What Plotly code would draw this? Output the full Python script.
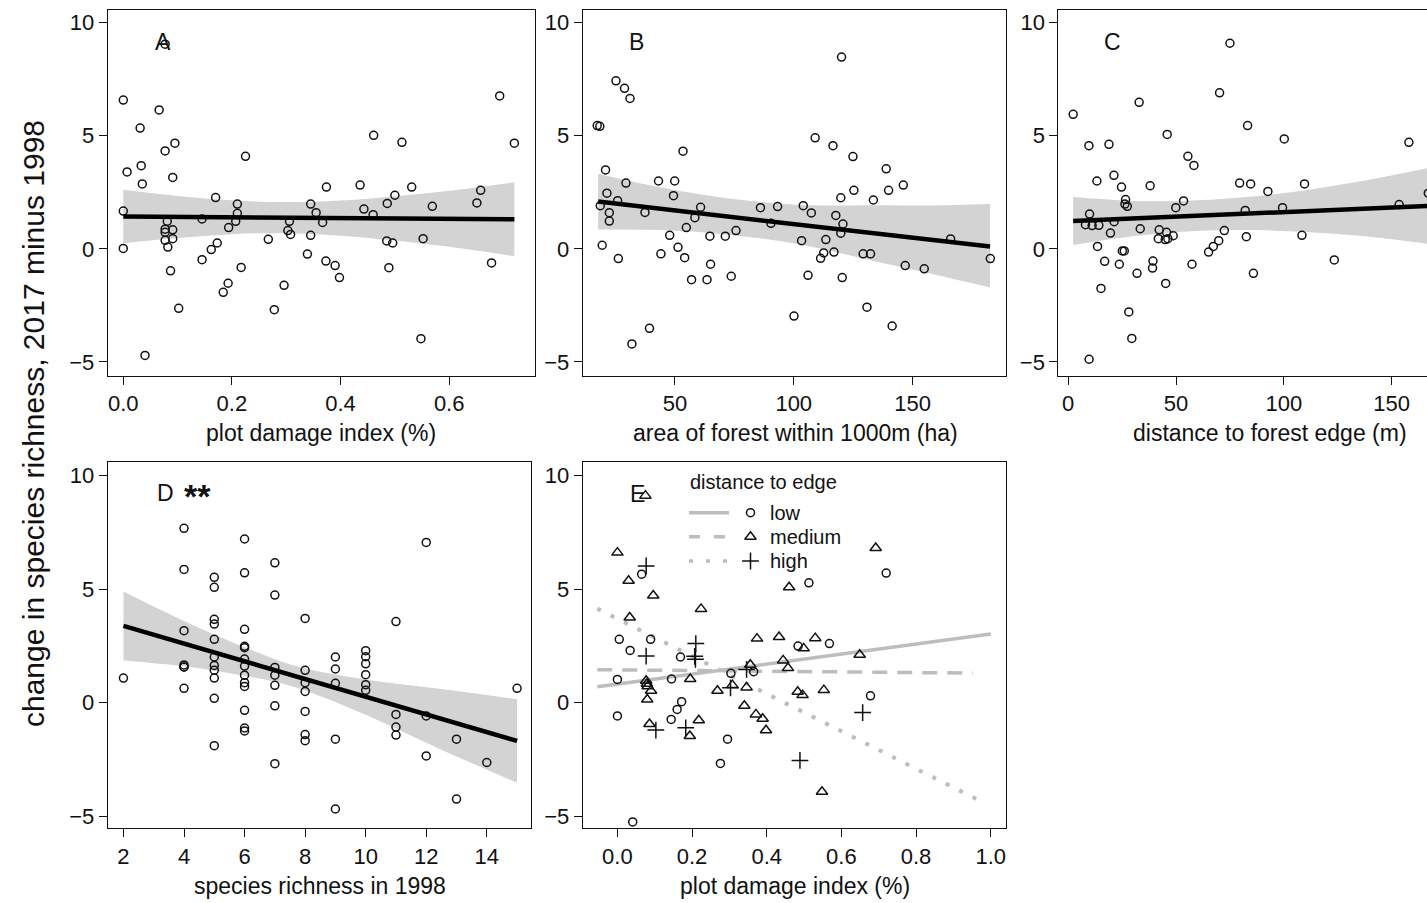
import plotly.graph_objects as go

FONT = "Liberation Sans, Arial, sans-serif"
W, H = 1427, 903

# ---------------- data ----------------
# Panel A: plot damage index (%)
a_x = [0.0, 0.066, 0.031, 0.095, 0.077, 0.033, 0.007, 0.091, 0.035, 0.225,
       0.0, 0.0, 0.081, 0.077, 0.091, 0.077, 0.077, 0.091, 0.082, 0.087,
       0.102, 0.04, 0.145, 0.145, 0.162, 0.170, 0.173, 0.194, 0.210, 0.210,
       0.207, 0.217, 0.193, 0.184, 0.267, 0.278, 0.296, 0.306, 0.303, 0.308,
       0.345, 0.355, 0.367, 0.345, 0.339, 0.374, 0.373, 0.39, 0.398, 0.436,
       0.443, 0.46, 0.461, 0.513, 0.5, 0.486, 0.485, 0.496, 0.489, 0.531,
       0.569, 0.552, 0.548, 0.651, 0.658, 0.678, 0.693, 0.72, 0.077]
a_y = [6.58, 6.14, 5.34, 4.67, 4.33, 3.68, 3.40, 3.16, 2.87, 4.09,
       1.67, 0.02, 1.22, 0.87, 0.84, 0.73, 0.38, 0.45, 0.08, -0.97,
       -2.63, -4.71, 1.32, -0.48, -0.03, 2.27, 0.26, 0.94, 1.98, 1.57,
       1.22, -0.82, -1.52, -1.92, 0.42, -2.69, -1.61, 1.22, 0.81, 0.64,
       1.98, 1.60, 1.17, 0.60, -0.23, 2.73, -0.54, -0.74, -1.27, 2.82,
       1.76, 1.51, 5.02, 4.71, 2.37, 2.01, 0.35, 0.26, -0.83, 2.73,
       1.88, 0.45, -3.97, 2.03, 2.59, -0.62, 6.76, 4.67, 9.05]
a_fit_x = [0.0, 0.72]
a_fit_y = [1.43, 1.31]
a_band_x = [0.0, 0.1, 0.2, 0.29, 0.4, 0.5, 0.6, 0.72]
a_band_hi = [2.61, 2.34, 2.15, 2.07, 2.14, 2.33, 2.57, 2.94]
a_band_lo = [0.25, 0.48, 0.65, 0.69, 0.58, 0.37, 0.09, -0.32]

# Panel B: area of forest within 1000 m (ha)
b_x = [17.3, 18.4, 25.2, 28.8, 31.1, 20.8, 21.4, 29.4, 25.9, 18.6,
       22.4, 22.4, 19.4, 26.2, 31.9, 39.3, 37.4, 43.1, 44.1, 47.8,
       49.4, 49.9, 53.4, 51.3, 54.1, 54.8, 57.0, 58.4, 60.8, 63.5,
       64.7, 65.0, 71.2, 73.7, 75.7, 86.0, 90.4, 93.2, 100.1, 103.3,
       104.0, 107.4, 106.0, 109.0, 111.3, 112.6, 113.5, 116.5, 116.9, 117.7,
       119.8, 119.8, 120.7, 120.4, 120.1, 124.9, 125.3, 129.2, 130.8, 132.3,
       133.5, 138.9, 139.9, 141.4, 146.1, 146.9, 154.9, 166.0, 182.7]
b_y = [5.45, 5.42, 7.43, 7.10, 6.65, 3.49, 2.46, 2.91, 2.13, 1.91,
       1.60, 1.23, 0.16, -0.43, -4.2, -3.51, 1.61, 3.0, -0.22, 0.6,
       2.35, 3.0, 4.32, 0.07, -0.39, 0.94, -1.36, 1.38, 1.84, -1.36,
       0.56, -0.68, 0.56, -1.21, 0.81, 1.82, 1.13, 1.87, -2.97, 0.36,
       1.91, 1.59, -1.17, 4.91, -0.42, -0.18, 0.41, 4.56, -0.14, 1.48,
       2.26, 0.69, 1.10, -1.27, 8.48, 4.08, 2.59, -0.22, -2.58, -0.22,
       2.16, 3.54, 2.59, -3.41, 2.82, -0.74, -0.88, 0.44, -0.43]
b_fit_x = [17.7, 182.6]
b_fit_y = [2.09, 0.10]
b_band_x = [17.7, 40, 66, 101, 136, 160, 182.6]
b_band_hi = [3.32, 2.80, 2.33, 1.95, 1.93, 1.92, 1.98]
b_band_lo = [0.86, 0.84, 0.69, 0.23, -0.59, -1.15, -1.70]

# Panel C: distance to forest edge (m)
c_x = [2.3, 9.6, 18.9, 13.3, 21.2, 24.7, 9.9, 8.0, 11.1, 14.2,
       21.3, 19.6, 13.6, 16.9, 15.2, 9.7, 23.7, 25.1, 26.0, 26.6,
       26.3, 27.4, 28.1, 29.5, 31.9, 32.9, 33.4, 38.0, 39.3, 39.1,
       41.8, 42.2, 45.0, 45.6, 46.2, 48.7, 45.2, 45.9, 49.9, 53.5,
       55.5, 58.3, 57.4, 65.1, 67.3, 69.8, 72.4, 70.2, 75.0, 79.5,
       84.6, 83.2, 82.1, 82.6, 85.9, 92.6, 99.4, 100.2, 108.4, 109.6,
       123.4, 153.5, 158.0, 167.0]
c_y = [5.95, 4.56, 4.62, 3.0, 3.25, 2.73, 1.54, 1.07, 1.03, 1.04,
       1.20, 0.70, 0.11, -0.55, -1.75, -4.88, -0.68, -0.09, -0.09, 2.18,
       1.98, 1.88, -2.79, -3.96, -1.08, 6.48, 0.89, 2.79, -0.54, -0.85,
       0.45, 0.84, 0.41, 0.73, 0.45, 0.58, -1.53, 5.06, 1.82, 2.12,
       4.09, 3.69, -0.68, -0.14, 0.11, 0.36, 0.81, 6.90, 9.09, 2.91,
       2.87, 5.45, 1.70, 0.54, -1.08, 2.54, 1.82, 4.86, 0.60, 2.87,
       -0.49, 1.96, 4.71, 2.46]
c_fit_x = [2.3, 167.0]
c_fit_y = [1.23, 1.90]
c_band_x = [2.3, 30, 55, 80, 105, 135, 167.0]
c_band_hi = [2.29, 2.12, 2.13, 2.27, 2.53, 2.98, 3.58]
c_band_lo = [0.17, 0.56, 0.77, 0.83, 0.77, 0.58, 0.22]

# Panel D: species richness in 1998
d_x = [2,
       4, 4, 4, 4, 4, 4, 4,
       5, 5, 5, 5, 5, 5, 5, 5, 5, 5, 5,
       6, 6, 6, 6, 6, 6, 6, 6, 6, 6, 6, 6, 6,
       7, 7, 7, 7, 7, 7, 7,
       8, 8, 8, 8, 8, 8, 8,
       9, 9, 9, 9, 9,
       10, 10, 10, 10, 10, 10,
       11, 11, 11, 11,
       12, 12, 12,
       13, 13,
       14,
       15]
d_y = [1.08,
       7.68, 5.87, 3.17, 1.66, 1.57, 1.57, 0.63,
       5.52, 5.08, 3.67, 3.46, 2.79, 2.01, 1.64, 1.43, 1.08, 0.19, -1.90,
       7.21, 5.72, 3.23, 2.48, 2.42, 1.92, 1.61, 1.21, 0.88, 0.71, -0.34, -1.12, -1.25,
       6.16, 4.74, 1.55, 1.21, 0.76, -0.14, -2.69,
       3.71, 1.42, 0.88, 0.49, -0.39, -1.41, -1.68,
       2.01, 1.48, 0.85, -1.61, -4.69,
       2.29, 2.02, 1.71, 1.23, 0.79, 0.54,
       3.57, -0.52, -1.08, -1.43,
       7.06, -0.59, -2.35,
       -1.61, -4.25,
       -2.64,
       0.63]
d_fit_x = [2, 15]
d_fit_y = [3.38, -1.69]
d_band_x = [2, 4, 6, 7.6, 10, 12.5, 15]
d_band_hi = [4.90, 3.60, 2.44, 1.65, 1.02, 0.60, 0.15]
d_band_lo = [1.86, 1.60, 1.18, 0.71, -0.54, -2.08, -3.53]

# Panel E: plot damage index by distance-to-edge class
e_low_x = [0.065, 0.513, 0.72, 0.005, 0.089, 0.034, 0.169, 0.484, 0.568, 0.0,
           0.145, 0.365, 0.304, 0.0, 0.172, 0.16, 0.144, 0.295, 0.276, 0.678, 0.041]
e_low_y = [5.66, 5.28, 5.71, 2.79, 2.79, 2.30, 2.01, 2.49, 2.60, 1.02,
           1.04, 1.36, 1.29, -0.59, 0.04, -0.30, -0.74, -1.61, -2.68, 0.30, -5.26]
e_med_x = [0.075, 0.0, 0.03, 0.096, 0.033, 0.224, 0.46, 0.692, 0.374, 0.433,
           0.53, 0.499, 0.444, 0.356, 0.457, 0.649, 0.195, 0.077, 0.079, 0.081,
           0.09, 0.080, 0.308, 0.346, 0.268, 0.483, 0.496, 0.553, 0.34, 0.371,
           0.389, 0.398, 0.086, 0.218, 0.194, 0.548]
e_med_y = [9.12, 6.61, 5.37, 4.72, 3.75, 4.13, 5.08, 6.81, 2.82, 2.89,
           2.84, 2.39, 1.86, 1.67, 1.52, 2.11, 1.04, 0.96, 0.83, 0.72,
           0.52, 0.14, 0.77, 0.67, 0.52, 0.48, 0.33, 0.55, -0.14, -0.52,
           -0.71, -1.22, -0.94, -0.78, -1.47, -3.93]
e_high_x = [0.077, 0.077, 0.21, 0.207, 0.209, 0.346, 0.303, 0.103, 0.183, 0.657, 0.489]
e_high_y = [6.02, 2.05, 2.60, 2.04, 1.91, 1.46, 0.65, -1.21, -1.11, -0.44, -2.55]
e_low_fit_x = [-0.054, 1.0]
e_low_fit_y = [0.70, 3.02]
e_med_fit_x = [-0.054, 0.952]
e_med_fit_y = [1.45, 1.30]
e_high_fit_x = [-0.054, 0.968]
e_high_fit_y = [4.14, -4.30]

legend_title = "distance to edge"
legend_labels = ["low", "medium", "high"]

# ---------------- styling ----------------
INK = "#111111"
BAND = "#d3d3d3"
GREY = "#bdbdbd"
TICK_FS = 22
TITLE_FS = 23
PT_SIZE = 8
PT_LW = 1.5


def px_x(p):
    return p / W


def px_y(p):
    return 1 - p / H


# pixel boxes: (left, right, top, bottom)
boxes = {
    "A": (107.7, 535.0, 10.0, 376.0),
    "B": (582.7, 1006.0, 10.0, 376.0),
    "C": (1058.3, 1427.0, 10.0, 376.0),
    "D": (107.7, 531.0, 462.3, 828.3),
    "E": (582.7, 1006.0, 462.3, 828.3),
}
ranges_x = {
    "A": [-0.0287, 0.758],
    "B": [11.2, 189.3],
    "C": [-4.6, 166.4],
    "D": [1.48, 15.46],
    "E": [-0.093, 1.041],
}
ranges_y_top = [-5.62, 10.56]
ranges_y_bot = [-5.54, 10.59]
xtickvals = {
    "A": [0.0, 0.2, 0.4, 0.6],
    "B": [50, 100, 150],
    "C": [0, 50, 100, 150],
    "D": [2, 4, 6, 8, 10, 12, 14],
    "E": [0.0, 0.2, 0.4, 0.6, 0.8, 1.0],
}
xtickfmt = {"A": ".1f", "B": "d", "C": "d", "D": "d", "E": ".1f"}
xtitles = {
    "A": ("plot damage index (%)", 321, 433),
    "B": ("area of forest within 1000m (ha)", 795, 433),
    "C": ("distance to forest edge (m)", 1270, 433),
    "D": ("species richness in 1998", 320, 886),
    "E": ("plot damage index (%)", 795, 886),
}
order = ["A", "B", "C", "D", "E"]

fig = go.Figure()
layout = dict(
    width=W, height=H, autosize=False,
    margin=dict(l=0, r=0, t=0, b=0, pad=0),
    paper_bgcolor="white", plot_bgcolor="rgba(0,0,0,0)",
    showlegend=False,
    font=dict(family=FONT, size=TICK_FS, color=INK),
)
annotations = []

for i, key in enumerate(order, start=1):
    l, r, t, b = boxes[key]
    sx = "" if i == 1 else str(i)
    yr = ranges_y_top if key in "ABC" else ranges_y_bot
    layout["xaxis" + sx] = dict(
        domain=[px_x(l), px_x(r)], anchor="y" + sx, range=ranges_x[key],
        showline=True, linecolor=INK, linewidth=1, mirror=True,
        ticks="outside", ticklen=8, tickwidth=1, tickcolor=INK,
        tickvals=xtickvals[key], tickformat=xtickfmt[key],
        showgrid=False, zeroline=False,
        tickfont=dict(family=FONT, size=TICK_FS, color=INK),
    )
    layout["yaxis" + sx] = dict(
        domain=[px_y(b), px_y(t)], anchor="x" + sx, range=yr,
        showline=True, linecolor=INK, linewidth=1,
        mirror=(key != "C"),
        ticks="outside", ticklen=8, tickwidth=1, tickcolor=INK,
        tickvals=[-5, 0, 5, 10],
        showgrid=False, zeroline=False,
        tickfont=dict(family=FONT, size=TICK_FS, color=INK),
    )
    txt, cx, cy = xtitles[key]
    annotations.append(dict(
        text=txt, xref="paper", yref="paper", x=px_x(cx), y=px_y(cy),
        xanchor="center", yanchor="middle", showarrow=False,
        font=dict(family=FONT, size=TITLE_FS, color=INK),
    ))

# y-axis title
annotations.append(dict(
    text="change in species richness, 2017 minus 1998",
    xref="paper", yref="paper", x=px_x(33), y=px_y(424),
    xanchor="center", yanchor="middle", textangle=-90, showarrow=False,
    font=dict(family=FONT, size=30, color=INK),
))

# panel letters (data coordinates)
panel_letters = [
    ("A", "x", "y", 0.073, 9.15, "center", TITLE_FS, False),
    ("B", "x2", "y2", 34.0, 9.15, "center", TITLE_FS, False),
    ("C", "x3", "y3", 20.7, 9.15, "center", TITLE_FS, False),
    ("D", "x4", "y4", 3.05, 9.24, "left", TITLE_FS, False),
    ("**", "x4", "y4", 3.94, 9.12, "left", 34, True),
    ("E", "x5", "y5", 0.053, 9.2, "center", TITLE_FS, False),
]
for txt, xr, yrf, xv, yv, anc, fs, bold in panel_letters:
    annotations.append(dict(
        text=("<b>%s</b>" % txt) if bold else txt,
        xref=xr, yref=yrf, x=xv, y=yv, xanchor=anc, yanchor="middle",
        showarrow=False, font=dict(family=FONT, size=fs, color=INK),
    ))


def add_band(bx, lo, hi, xa, ya):
    fig.add_trace(go.Scatter(
        x=bx, y=lo, xaxis=xa, yaxis=ya, mode="lines",
        line=dict(width=0, shape="spline", color=BAND), hoverinfo="skip",
    ))
    fig.add_trace(go.Scatter(
        x=bx, y=hi, xaxis=xa, yaxis=ya, mode="lines", fill="tonexty",
        fillcolor=BAND, line=dict(width=0, shape="spline", color=BAND),
        hoverinfo="skip",
    ))


def add_points(px, py, xa, ya, symbol="circle-open", size=PT_SIZE):
    fig.add_trace(go.Scatter(
        x=px, y=py, xaxis=xa, yaxis=ya, mode="markers",
        marker=dict(symbol=symbol, size=size, color=INK,
                    line=dict(color=INK, width=PT_LW)),
    ))


def add_fit(fx, fy, xa, ya):
    fig.add_trace(go.Scatter(
        x=fx, y=fy, xaxis=xa, yaxis=ya, mode="lines",
        line=dict(color="black", width=4.5),
    ))


add_band(a_band_x, a_band_lo, a_band_hi, "x", "y")
add_points(a_x, a_y, "x", "y")
add_fit(a_fit_x, a_fit_y, "x", "y")

add_band(b_band_x, b_band_lo, b_band_hi, "x2", "y2")
add_points(b_x, b_y, "x2", "y2")
add_fit(b_fit_x, b_fit_y, "x2", "y2")

add_band(c_band_x, c_band_lo, c_band_hi, "x3", "y3")
add_points(c_x, c_y, "x3", "y3")
add_fit(c_fit_x, c_fit_y, "x3", "y3")

add_band(d_band_x, d_band_lo, d_band_hi, "x4", "y4")
add_points(d_x, d_y, "x4", "y4")
add_fit(d_fit_x, d_fit_y, "x4", "y4")

# Panel E
fig.add_trace(go.Scatter(x=e_low_fit_x, y=e_low_fit_y, xaxis="x5", yaxis="y5",
                         mode="lines", line=dict(color=GREY, width=3.5)))
fig.add_trace(go.Scatter(x=e_med_fit_x, y=e_med_fit_y, xaxis="x5", yaxis="y5",
                         mode="lines", line=dict(color=GREY, width=3.5, dash="15px,10px")))
fig.add_trace(go.Scatter(x=e_high_fit_x, y=e_high_fit_y, xaxis="x5", yaxis="y5",
                         mode="lines", line=dict(color=GREY, width=4, dash="4px,11px")))
add_points(e_low_x, e_low_y, "x5", "y5", "circle-open", PT_SIZE)
add_points(e_med_x, e_med_y, "x5", "y5", "triangle-up-open", 10)
add_points(e_high_x, e_high_y, "x5", "y5", "cross-thin-open", 12)

# ---- manual legend for panel E, on a pixel overlay axis ----
layout["xaxis6"] = dict(domain=[0, 1], range=[0, W], visible=False, anchor="y6",
                        fixedrange=True)
layout["yaxis6"] = dict(domain=[0, 1], range=[H, 0], visible=False, anchor="x6",
                        fixedrange=True)
leg_rows_y = [512.7, 536.7, 561.0]
leg_line_x = [689, 729]
leg_sym_x = 750.5
leg_text_x = 768
leg_dashes = ["solid", "11px,14px", "4px,13px"]
leg_symbols = [("circle-open", PT_SIZE), ("triangle-up-open", 10), ("cross-thin-open", 12)]
for ry, dsh, (sym, sz) in zip(leg_rows_y, leg_dashes, leg_symbols):
    fig.add_trace(go.Scatter(x=leg_line_x, y=[ry, ry], xaxis="x6", yaxis="y6",
                             mode="lines", line=dict(color=GREY, width=3.5, dash=dsh),
                             cliponaxis=False, hoverinfo="skip"))
    fig.add_trace(go.Scatter(x=[leg_sym_x], y=[ry], xaxis="x6", yaxis="y6",
                             mode="markers", cliponaxis=False, hoverinfo="skip",
                             marker=dict(symbol=sym, size=sz, color=INK,
                                         line=dict(color=INK, width=PT_LW))))
for ry, lab in zip(leg_rows_y, legend_labels):
    annotations.append(dict(text=lab, xref="paper", yref="paper",
                            x=px_x(leg_text_x), y=px_y(ry), xanchor="left",
                            yanchor="middle", showarrow=False,
                            font=dict(family=FONT, size=20, color=INK)))
annotations.append(dict(text=legend_title, xref="paper", yref="paper",
                        x=px_x(688), y=px_y(482.5), xanchor="left",
                        yanchor="middle", showarrow=False,
                        font=dict(family=FONT, size=20, color=INK)))

layout["annotations"] = annotations
fig.update_layout(**layout)
fig.write_html("out.html",
               config={"displayModeBar": False, "staticPlot": True},
               post_script="document.body.style.margin='0';document.body.style.overflow='hidden';")
